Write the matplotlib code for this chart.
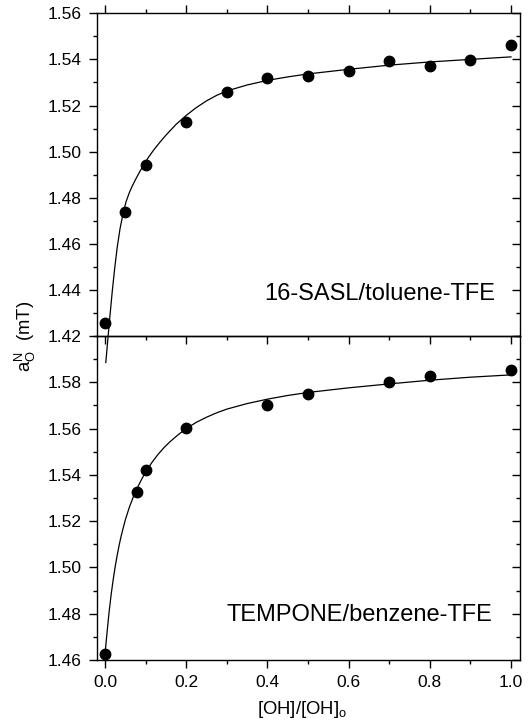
import matplotlib
matplotlib.use("Agg")
import matplotlib.pyplot as plt
from matplotlib.ticker import MultipleLocator, FixedLocator, FormatStrFormatter

plt.rcParams["font.family"] = ["Liberation Sans", "DejaVu Sans"]
plt.rcParams["mathtext.fontset"] = "custom"
plt.rcParams["mathtext.rm"] = "Liberation Sans"
plt.rcParams["mathtext.it"] = "Liberation Sans"

# 16-SASL in toluene-TFE: measured points
sasl_x = [0.0, 0.05, 0.1, 0.2, 0.3, 0.4, 0.5, 0.6, 0.7, 0.8, 0.9, 1.0]
sasl_y = [1.4258, 1.4737, 1.4943, 1.5130, 1.5257, 1.5319, 1.5327, 1.5351,
          1.5393, 1.5370, 1.5399, 1.5463]
# 16-SASL fitted curve
sasl_fit_x = [0.002, 0.005, 0.008, 0.012, 0.018, 0.024, 0.030, 0.037, 0.045,
              0.052, 0.06, 0.067, 0.075, 0.085, 0.095, 0.107, 0.12, 0.135,
              0.15, 0.175, 0.2, 0.225, 0.25, 0.275, 0.3, 0.35, 0.4, 0.45,
              0.5, 0.6, 0.7, 0.8, 0.9, 1.0]
sasl_fit_y = [1.4085, 1.4145, 1.4205, 1.4283, 1.4395, 1.4495, 1.4583, 1.4665,
              1.4735, 1.4783, 1.4822, 1.4850, 1.4878, 1.4911, 1.4941, 1.4975,
              1.5007, 1.5040, 1.5071, 1.5118, 1.5157, 1.5191, 1.5220, 1.5244,
              1.5263, 1.5289, 1.5309, 1.5324, 1.5337, 1.5357, 1.5375, 1.5389,
              1.5400, 1.5411]

# TEMPONE in benzene-TFE: measured points
temp_x = [0.0, 0.08, 0.1, 0.2, 0.4, 0.5, 0.7, 0.8, 1.0]
temp_y = [1.4626, 1.5325, 1.5423, 1.5601, 1.5700, 1.5751, 1.5800, 1.5827, 1.5852]
# TEMPONE fitted curve
temp_fit_x = [0.0, 0.003, 0.006, 0.01, 0.015, 0.02, 0.025, 0.03, 0.035, 0.04,
              0.05, 0.06, 0.07, 0.08, 0.09, 0.10, 0.115, 0.13, 0.145, 0.16,
              0.18, 0.20, 0.225, 0.25, 0.275, 0.30, 0.35, 0.40, 0.45, 0.50,
              0.60, 0.70, 0.80, 0.90, 1.00]
temp_fit_y = [1.4626, 1.4680, 1.4735, 1.4805, 1.4880, 1.4945, 1.5002, 1.5052,
              1.5097, 1.5137, 1.5205, 1.5260, 1.5306, 1.5345, 1.5380, 1.5412,
              1.5452, 1.5487, 1.5517, 1.5543, 1.5573, 1.5600, 1.5627, 1.5649,
              1.5668, 1.5684, 1.5708, 1.5727, 1.5743, 1.5756, 1.5776, 1.5793,
              1.5809, 1.5822, 1.5832]

top_yticks = [1.42, 1.44, 1.46, 1.48, 1.50, 1.52, 1.54, 1.56]
bot_yticks = [1.46, 1.48, 1.50, 1.52, 1.54, 1.56, 1.58]
xticks = [0.0, 0.2, 0.4, 0.6, 0.8, 1.0]

W, H = 528, 724
fig = plt.figure(figsize=(W / 100, H / 100), dpi=100)

left = 96.7 / W
width = (520 - 96.7) / W
ax_top = fig.add_axes([left, 1 - 336 / H, width, (336 - 13.3) / H])
ax_bot = fig.add_axes([left, 1 - 660 / H, width, (660 - 336) / H])
ax_top.set_zorder(3)
ax_top.patch.set_visible(False)

xlim = (-0.0204, 1.0222)
tick_fs = 12.5

def style(ax, ylim, yticks, top_ticks, labelbottom):
    ax.set_xlim(*xlim)
    ax.set_ylim(*ylim)
    ax.xaxis.set_major_locator(FixedLocator(xticks))
    ax.xaxis.set_minor_locator(MultipleLocator(0.1))
    ax.xaxis.set_major_formatter(FormatStrFormatter("%.1f"))
    ax.yaxis.set_major_locator(FixedLocator(yticks))
    ax.yaxis.set_minor_locator(MultipleLocator(0.01))
    ax.yaxis.set_major_formatter(FormatStrFormatter("%.2f"))
    ax.tick_params(axis="x", which="both", direction="out", top=top_ticks,
                   bottom=True, labelbottom=labelbottom, labelsize=tick_fs,
                   pad=4.5, width=1.0)
    ax.tick_params(axis="y", which="both", direction="out", left=True,
                   right=False, labelsize=tick_fs, pad=5, width=1.0)
    ax.tick_params(which="major", length=6)
    ax.tick_params(which="minor", length=2.8)
    for s in ax.spines.values():
        s.set_linewidth(1.0)
    # inward ticks on the right side
    tw = ax.twinx()
    tw.set_ylim(*ylim)
    tw.yaxis.set_major_locator(FixedLocator(yticks))
    tw.yaxis.set_minor_locator(MultipleLocator(0.01))
    tw.tick_params(axis="y", which="both", direction="in", labelright=False,
                   width=1.0)
    tw.tick_params(which="major", length=6)
    tw.tick_params(which="minor", length=3)
    for s in tw.spines.values():
        s.set_visible(False)
    return tw

style(ax_top, (1.42, 1.56), top_yticks, True, False)
style(ax_bot, (1.46, 1.60), bot_yticks, False, True)

ax_top.plot(sasl_fit_x, sasl_fit_y, color="black", lw=0.9, clip_on=False, zorder=2)
ax_top.plot(sasl_x, sasl_y, "o", color="black", ms=7.5, clip_on=False, zorder=3)
ax_bot.plot(temp_fit_x, temp_fit_y, color="black", lw=0.9, zorder=2)
ax_bot.plot(temp_x, temp_y, "o", color="black", ms=7.5, clip_on=False, zorder=3)

ax_top.text(0.941, 0.129, "16-SASL/toluene-TFE", transform=ax_top.transAxes,
            ha="right", va="center", fontsize=17)
ax_bot.text(0.934, 0.139, "TEMPONE/benzene-TFE", transform=ax_bot.transAxes,
            ha="right", va="center", fontsize=17)

fig.text(301.5 / W, 1 - 714 / H, r"[OH]/[OH]$_\mathrm{o}$", ha="center",
         va="baseline", fontsize=13.3)
fig.text(25 / W, 1 - 336.7 / H, r"a$_\mathrm{O}^\mathrm{N}$  (mT)", rotation=90,
         ha="center", va="center", fontsize=13.3)

fig.savefig("out.png", dpi=100)
